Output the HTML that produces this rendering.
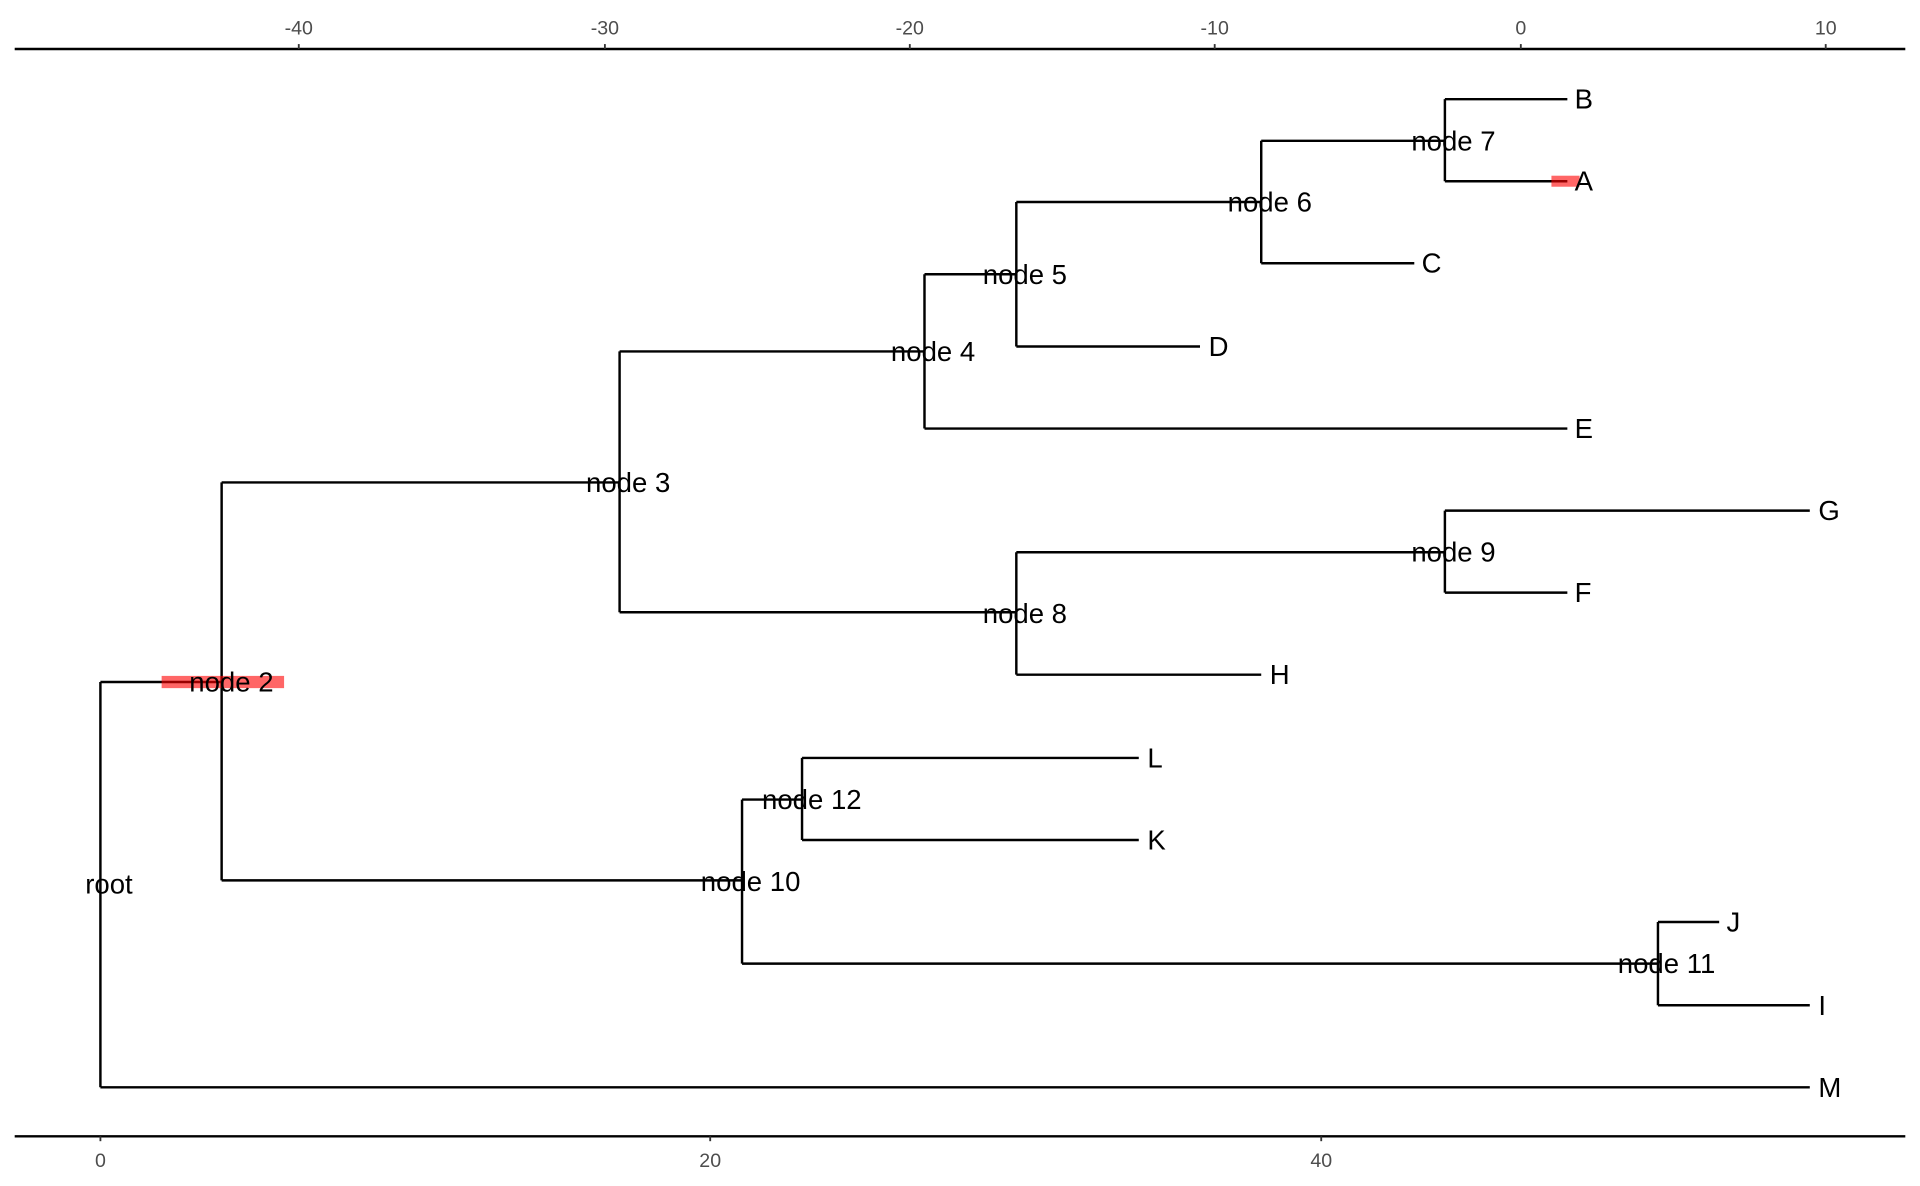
<!DOCTYPE html>
<html><head><meta charset="utf-8"><style>html,body{margin:0;padding:0;background:#fff}svg{display:block}</style></head>
<body>
<svg width="1920" height="1186" viewBox="0 0 1568 968.6" preserveAspectRatio="none" xmlns="http://www.w3.org/2000/svg" font-family="Liberation Sans, sans-serif">
<g stroke="#000" stroke-width="2">
<line x1="12" y1="40" x2="1556" y2="40"/>
<line x1="12" y1="928" x2="1556" y2="928"/>
<g stroke="#333" stroke-width="1.5">
<line x1="244" y1="36" x2="244" y2="40"/><line x1="494" y1="36" x2="494" y2="40"/><line x1="743" y1="36" x2="743" y2="40"/><line x1="992" y1="36" x2="992" y2="40"/><line x1="1242" y1="36" x2="1242" y2="40"/><line x1="1491" y1="36" x2="1491" y2="40"/>
<line x1="82" y1="928" x2="82" y2="932"/><line x1="580" y1="928" x2="580" y2="932"/><line x1="1079" y1="928" x2="1079" y2="932"/>
</g>
<path fill="none" d="
M82 557V888 M82 557H181 M82 888H1478
M181 394V719 M181 394H506 M181 719H606
M506 287V500 M506 287H755 M506 500H830
M755 224V350 M755 224H830 M755 350H1280
M830 165V283 M830 165H1030 M830 283H980
M1030 115V215 M1030 115H1180 M1030 215H1155
M1180 81V148 M1180 81H1280 M1180 148H1280
M830 451V551 M830 451H1180 M830 551H1030
M1180 417V484 M1180 417H1478 M1180 484H1280
M606 653V787 M606 653H655 M606 787H1354
M655 619V686 M655 619H930 M655 686H930
M1354 753V821 M1354 753H1404 M1354 821H1478"/>
</g>
<rect x="132" y="552" width="100" height="10" fill="#ff0000" fill-opacity="0.6"/>
<rect x="1267" y="143.5" width="23" height="9" fill="#ff0000" fill-opacity="0.6"/>
<g font-size="16" fill="#4d4d4d" text-anchor="middle">
<text x="244" y="28">-40</text><text x="494" y="28">-30</text><text x="743" y="28">-20</text><text x="992" y="28">-10</text><text x="1242" y="28">0</text><text x="1491" y="28">10</text>
<text x="82" y="953">0</text><text x="580" y="953">20</text><text x="1079" y="953">40</text>
</g>
<g font-size="22.5" fill="#000" dominant-baseline="central">
<text x="1286" y="81">B</text><text x="1286" y="148">A</text><text x="1161" y="215">C</text><text x="987" y="283">D</text><text x="1286" y="350">E</text>
<text x="1485" y="417">G</text><text x="1286" y="484">F</text><text x="1037" y="551">H</text><text x="937" y="619">L</text><text x="937" y="686">K</text>
<text x="1410" y="753">J</text><text x="1485" y="821">I</text><text x="1485" y="888">M</text>
<g text-anchor="middle">
<text x="1187" y="115">node 7</text><text x="1037" y="165">node 6</text><text x="837" y="224">node 5</text><text x="762" y="287">node 4</text>
<text x="513" y="394">node 3</text><text x="189" y="557">node 2</text><text x="837" y="501">node 8</text><text x="1187" y="451">node 9</text>
<text x="663" y="653">node 12</text><text x="613" y="720">node 10</text><text x="1361" y="787">node 11</text><text x="89" y="722">root</text>
</g>
</g>
</svg>
</body></html>
